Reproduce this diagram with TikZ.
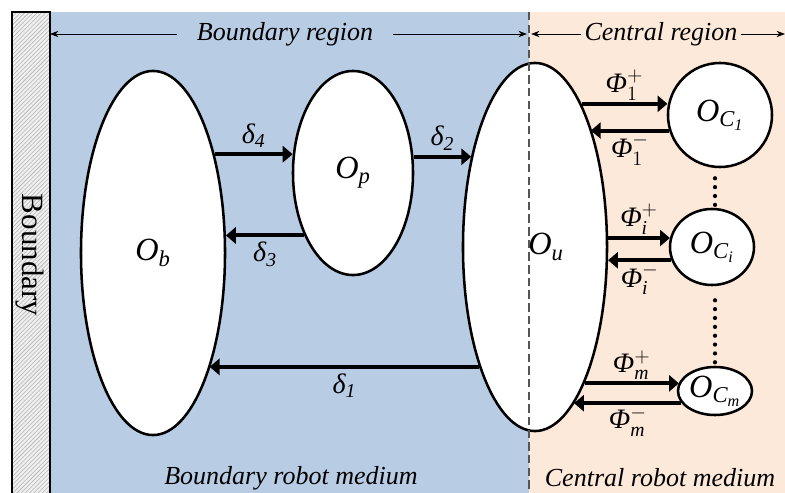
\documentclass[tikz,border=0pt]{standalone}
\usepackage{amsmath}
\usepackage{fontspec}
\setmainfont{Liberation Serif}
\usetikzlibrary{arrows.meta,shapes.geometric,patterns}
\definecolor{bndblue}{RGB}{184,204,228}
\definecolor{cenpeach}{RGB}{253,233,217}
\definecolor{splitgray}{RGB}{85,85,85}

\begin{document}
\begin{tikzpicture}[x=0.025cm,y=-0.025cm,>=Latex,
  every node/.style={font=\fontsize{18.5}{22}\selectfont\itshape},
  medium/.style={draw,ellipse,fill=white,line width=1.8pt,inner sep=0pt,font=\fontsize{23}{26}\selectfont},
  flow/.style={-{Triangle[length=7pt,width=11.5pt]},line width=2.8pt},
  flowlabel/.style={font=\fontsize{20}{22}\selectfont},
  span/.style={-{Stealth[length=6pt,width=4.5pt]},line width=0.6pt},
  dotline/.style={line width=3pt,line cap=round,dash pattern=on 0pt off 6.3pt}]
\useasboundingbox (0,0) rectangle (785,493);
% regions
\fill[bndblue] (50,12) rectangle (529,493);
\fill[cenpeach] (529,12) rectangle (785,493);
\fill[gray!12] (12,12) rectangle (50,493);
\fill[pattern=north east lines,pattern color=gray!60] (12,12) rectangle (50,493);
\draw[line width=1.2pt] (12,493) -- (12,12) -- (50,12) -- (50,493);
\node[rotate=-90,font=\fontsize{22}{24}\selectfont] (bnd) at (30,255) {Boundary};

% media
\node[medium,minimum width=3.6cm,minimum height=9.1cm] (Ob) at (153,253) {$\textit{O}_{\textit{b}}$};
\node[medium,minimum width=3cm,minimum height=5.1cm] (Op) at (353,173) {$\textit{O}_{\textit{p}}$};
\node[medium,minimum width=3.6cm,minimum height=9.2cm] (Ou) at (535,247) {\hspace*{0.55cm}$\textit{O}_{\textit{u}}$};
\node[medium,circle,minimum size=2.6cm] (Oc1) at (720,115) {$\textit{O}_{\textit{C}_{\textit{1}}}$};
\node[medium,minimum width=2.1cm,minimum height=1.9cm] (Oci) at (712,247) {$\textit{O}_{\textit{C}_{\textit{i}}}$};
\node[medium,minimum width=1.85cm,minimum height=1.2cm] (Ocm) at (715,391) {$\textit{O}_{\textit{C}_{\textit{m}}}$};
\draw[splitgray,line width=1.1pt,dash pattern=on 6pt off 3pt] (529,12) -- (529,493);

% region headers
\node[inner xsep=0.5cm] (brl) at (285,34) {Boundary region};
\node[inner xsep=2pt] (crl) at (661,34) {Central region};
\coordinate (bl) at (50,34);
\coordinate (mid) at (529,34);
\coordinate (cr) at (785,34);
\draw[span] (brl) -- (bl);
\draw[span,shorten >=1.5pt] (brl) -- (mid);
\draw[span,shorten >=1.5pt] (crl) -- (mid);
\draw[span] (crl) -- (cr);

% boundary flows
\draw[flow] (Ob.58) -- (Ob.58 -| Op.164) node[midway,above,flowlabel] {$\textit{δ}_{\textit{4}}$};
\draw[flow] (Op.232) -- (Op.232 -| Ob.14) node[midway,below,flowlabel] {$\textit{δ}_{\textit{3}}$};
\draw[flow] (Op.15) -- (Op.15 -| Ou.125) node[midway,above,flowlabel] {$\textit{δ}_{\textit{2}}$};
\draw[flow] (Ou.245) -- (Ou.245 -| Ob.296) node[midway,below,flowlabel] {$\textit{δ}_{\textit{1}}$};

% central flows
\draw[flow] (Ou.72) -- (Ou.72 -| Oc1.171) node[midway,above,inner sep=1pt,flowlabel] {$\textit{Φ}_{1}^{+}$};
\draw[flow] (Oc1.197) -- (Oc1.197 -| Ou.65) node[midway,below,inner sep=1pt,flowlabel] {$\textit{Φ}_{1}^{-}$};
\draw[flow] (Ou.7) -- (Ou.7 -| Oci.168) node[midway,above,inner sep=1pt,flowlabel] {$\textit{Φ}_{\textit{i}}^{+}$};
\draw[flow] (Oci.198) -- (Oci.198 -| Ou.350) node[midway,below,inner sep=1pt,flowlabel] {$\textit{Φ}_{\textit{i}}^{-}$};
\draw[flow] (Ou.290) -- (Ou.290 -| Ocm.167) node[midway,above,inner sep=1pt,flowlabel] {$\textit{Φ}_{\textit{m}}^{+}$};
\draw[flow] (Ocm.200) -- (Ocm.200 -| Ou.284) node[midway,below,inner sep=1pt,flowlabel] {$\textit{Φ}_{\textit{m}}^{-}$};
\draw[dotline] (Ocm |- Oc1.south) ++(0,10) -- (Ocm |- Oci.north);
\draw[dotline] (Ocm |- Oci.south) ++(0,14) -- (Ocm.north);

% media labels
\node (bmed) at (291,478) {Boundary robot medium};
\node (cmed) at (660,478) {Central robot medium};
\end{tikzpicture}
\end{document}
